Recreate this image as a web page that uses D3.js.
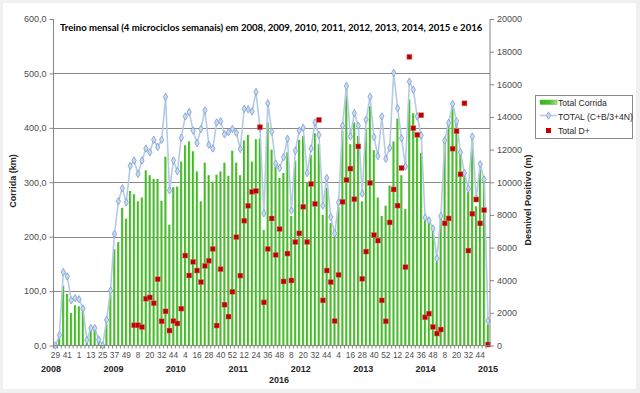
<!DOCTYPE html>
<html><head><meta charset="utf-8">
<script src="https://cdn.jsdelivr.net/npm/d3@7"></script>
<style>body{margin:0;background:#fff}svg{display:block}</style>
</head><body>
<svg id="c" width="640" height="393"></svg>
<script>
// ---- data ----
const weeks = [29,33,37,41,45,49,
  1,5,9,13,17,21,25,29,33,37,41,45,49,52,
  4,8,12,16,20,24,28,32,36,40,44,48,52,
  4,8,12,16,20,24,28,32,36,40,44,48,52,
  4,8,12,16,20,24,28,32,36,40,44,48,52,
  4,8,12,16,20,24,28,32,36,40,44,48,52,
  4,8,12,16,20,24,28,32,36,40,44,48,52,
  4,8,12,16,20,24,28,32,36,40,44,48,52,
  4,8,12,16,20,24,28,32,36,40,44,48,52];
const years = ["2008","2009","2010","2011","2012","2013","2014","2015"];
const xTitle = "2016";
const totalCorrida = [0,12,110,95,60,74,72,68,5,29,
  29,8,0,40,94,177,190,253,233,284,
  278,265,272,322,313,306,306,266,347,222,
  291,292,338,368,375,357,320,265,336,313,
  301,314,320,336,312,358,336,313,377,387,
  338,379,380,212,410,360,328,308,317,355,
  238,340,378,385,300,350,390,370,240,290,
  225,200,255,395,470,370,410,385,265,400,
  440,359,272,238,257,294,375,417,313,251,
  452,427,387,354,230,227,214,154,234,376,
  409,438,410,352,311,282,378,256,326,304,38];
const totalCBN = [0,19,135,127,83,87,85,68,10,32,
  32,11,0,47,101,205,265,289,263,330,
  340,315,340,362,355,378,365,378,457,285,
  340,320,382,421,429,395,372,398,432,369,
  362,410,412,388,392,398,391,361,435,434,
  430,466,400,243,445,393,334,326,346,380,
  248,358,395,400,317,362,410,387,257,308,
  236,206,263,404,477,384,427,404,279,415,
  457,383,348,421,343,363,501,436,381,329,
  485,470,421,386,235,230,215,160,238,377,
  409,444,412,355,317,288,384,270,333,305,45];
const totalDplus = [null,null,null,null,null,null,null,null,null,null,
  null,null,null,null,null,null,null,null,null,null,
  1240,1240,1130,2866,2945,2590,4060,1484,2093,915,
  1500,1350,2256,5508,4289,5122,4593,3884,4878,5190,
  5915,1220,4675,2500,1770,3290,6640,4280,7642,8557,
  9411,9470,13374,2642,5915,7780,5549,7134,3923,5630,
  3984,6341,6870,8496,6341,9898,8679,13821,2764,4593,
  3882,1500,4329,8801,10142,10833,8963,12195,4085,5752,
  9960,6768,6423,2764,1484,7541,9560,8567,10874,4800,
  17683,13313,12906,14106,1728,1951,1138,732,976,7480,
  7785,12053,13130,10488,14837,5813,8069,8943,7480,8293,60];
const leftTicks = [0,100,200,300,400,500,600];
const rightTicks = [0,2000,4000,6000,8000,10000,12000,14000,16000,18000,20000];
const legendLabels = ["Total Corrida","TOTAL (C+B/3+4N)","Total D+"];
const chartTitle = "Treino mensal (4 microciclos semanais) em 2008, 2009, 2010, 2011, 2012, 2013, 2014, 2015 e 2016";
const leftTitle = "Corrida (km)";
const rightTitle = "Desnivel Positivo (m)";

// ---- layout ----
const L = 53.5, R = 490, T = 19, B = 345.5;
const svg = d3.select("#c");
const axisFont = "'Liberation Sans', Arial, sans-serif";

svg.append("rect").attr("width",640).attr("height",393).attr("fill","#f0f0f0");
svg.append("rect").attr("x",3).attr("y",3).attr("width",633).attr("height",386).attr("fill","#ffffff");

const defs = svg.append("defs");
const g1 = defs.append("linearGradient").attr("id","barg").attr("x1","0").attr("x2","1").attr("y1","0").attr("y2","0");
g1.append("stop").attr("offset","0%").attr("stop-color","#35b51f");
g1.append("stop").attr("offset","55%").attr("stop-color","#4cbd30");
g1.append("stop").attr("offset","100%").attr("stop-color","#a8e08a");

const idx = d3.range(weeks.length);
const x = d3.scaleBand().domain(idx).range([L, R]).paddingInner(0.4).paddingOuter(0.2);
const yL = d3.scaleLinear().domain([0,600]).range([B, T]);
const yR = d3.scaleLinear().domain([0,20000]).range([B, T]);
const cx = i => x(i) + x.bandwidth()/2;

// gridlines
svg.append("g").selectAll("line").data(leftTicks.filter(t => t > 0 && t < 600)).join("line")
  .attr("x1", L).attr("x2", R).attr("y1", d => Math.round(yL(d)) + 0.5).attr("y2", d => Math.round(yL(d)) + 0.5)
  .attr("stroke", "#8a8a8a").attr("stroke-width", 1);

// bars
svg.append("g").selectAll("rect").data(idx).join("rect")
  .attr("x", i => x(i)).attr("width", x.bandwidth())
  .attr("y", i => yL(totalCorrida[i])).attr("height", i => B - yL(totalCorrida[i]))
  .attr("fill", "url(#barg)");

// line
const line = d3.line().x(i => cx(i)).y(i => yL(totalCBN[i]));
svg.append("path").datum(idx).attr("d", line).attr("fill","none")
  .attr("stroke","#b4cae6").attr("stroke-width",1.6).attr("stroke-linejoin","round");
svg.append("g").selectAll("path").data(idx).join("path")
  .attr("transform", i => `translate(${cx(i)},${yL(totalCBN[i])})`)
  .attr("d", d3.symbol().type(d3.symbolDiamond).size(16))
  .attr("fill","#c9d9ef").attr("stroke","#7a9dd0").attr("stroke-width",0.8);

// D+ squares
svg.append("g").selectAll("rect").data(idx.filter(i => totalDplus[i] != null)).join("rect")
  .attr("x", i => cx(i) - 2.5).attr("y", i => yR(totalDplus[i]) - 2.5)
  .attr("width", 5).attr("height", 5)
  .attr("fill","#c00000").attr("stroke","rgba(220,120,120,0.55)").attr("stroke-width",0.8);

// axes lines
svg.append("line").attr("x1",L).attr("x2",L).attr("y1",T).attr("y2",B).attr("stroke","#868686");
svg.append("line").attr("x1",R).attr("x2",R).attr("y1",T).attr("y2",B).attr("stroke","#868686");
svg.append("line").attr("x1",L).attr("x2",R).attr("y1",B).attr("y2",B).attr("stroke","#868686");

// left axis
const fmt = d => d3.format(".1f")(d).replace(".", ",");
const la = svg.append("g").attr("transform", `translate(${L},0)`)
  .call(d3.axisLeft(yL).tickValues(leftTicks).tickFormat(fmt).tickSize(4).tickPadding(3));
la.select(".domain").remove();
la.selectAll("line").attr("stroke","#868686");
la.selectAll("text").attr("font-family",axisFont).attr("font-size",9).attr("fill","#4d4d4d");

// right axis
const ra = svg.append("g").attr("transform", `translate(${R},0)`)
  .call(d3.axisRight(yR).tickValues(rightTicks).tickFormat(d3.format("d")).tickSize(4).tickPadding(3));
ra.select(".domain").remove();
ra.selectAll("line").attr("stroke","#868686");
ra.selectAll("text").attr("font-family",axisFont).attr("font-size",9).attr("fill","#4d4d4d");

// bottom axis: ticks at every category boundary, labels every 3rd
const step = x.step();
svg.append("g").selectAll("line").data(idx).join("line")
  .attr("x1", i => cx(i) - step/2).attr("x2", i => cx(i) - step/2)
  .attr("y1", B).attr("y2", B + 3).attr("stroke","#868686");
const ba = svg.append("g").attr("transform", `translate(0,${B})`)
  .call(d3.axisBottom(x).tickValues(idx.filter(i => i % 3 === 0)).tickFormat(i => weeks[i]).tickSize(0).tickPadding(7));
ba.select(".domain").remove();
ba.selectAll("text").attr("font-family",axisFont).attr("font-size",8.3).attr("fill","#4d4d4d");

// year labels
const xy = d3.scalePoint().domain(years).range([51, 488]);
svg.append("g").selectAll("text").data(years).join("text")
  .attr("x", d => xy(d)).attr("y", 372).attr("text-anchor","middle")
  .attr("font-family",axisFont).attr("font-size",9).attr("font-weight","bold").attr("fill","#262626")
  .text(d => d);
svg.append("text").attr("x", 279).attr("y", 383).attr("text-anchor","middle")
  .attr("font-family",axisFont).attr("font-size",9).attr("font-weight","bold").attr("fill","#262626")
  .text(xTitle);

// axis titles
svg.append("text").attr("transform","translate(16,181) rotate(-90)").attr("text-anchor","middle")
  .attr("font-family",axisFont).attr("font-size",9).attr("font-weight","bold").attr("fill","#262626")
  .text(leftTitle);
svg.append("text").attr("transform","translate(531,200) rotate(-90)").attr("text-anchor","middle")
  .attr("font-family",axisFont).attr("font-size",9).attr("font-weight","bold").attr("fill","#262626")
  .text(rightTitle);

// title
const tt = svg.append("text").attr("x", 60).attr("y", 31)
  .attr("font-family","Lato, 'Open Sans', sans-serif").attr("font-weight","bold").attr("font-size",10)
  .attr("fill","#000").text(chartTitle);
const tw = tt.node().getComputedTextLength();
tt.attr("font-size", 10 * 423 / tw);

// legend
const lg = svg.append("g");
lg.append("rect").attr("x",535.5).attr("y",95.5).attr("width",97).attr("height",43)
  .attr("fill","#fff").attr("stroke","#8a8a8a");
lg.append("rect").attr("x",540).attr("y",100).attr("width",17).attr("height",4.5)
  .attr("fill","url(#barg)").attr("stroke","#5cbf3a").attr("stroke-width",0.5);
lg.append("line").attr("x1",540).attr("x2",557).attr("y1",115.5).attr("y2",115.5)
  .attr("stroke","#b4cae6").attr("stroke-width",1.6);
lg.append("path").attr("transform","translate(548.5,115.5)").attr("d", d3.symbol().type(d3.symbolDiamond).size(16))
  .attr("fill","#c9d9ef").attr("stroke","#7a9dd0").attr("stroke-width",0.8);
lg.append("rect").attr("x",546).attr("y",128).attr("width",5).attr("height",5).attr("fill","#c00000");
lg.selectAll("text.l").data(legendLabels).join("text").attr("class","l")
  .attr("x",558).attr("y",(d,i) => 105.5 + i*14)
  .attr("font-family",axisFont).attr("font-size",8.6).attr("fill","#262626").text(d => d);
</script>
</body></html>
